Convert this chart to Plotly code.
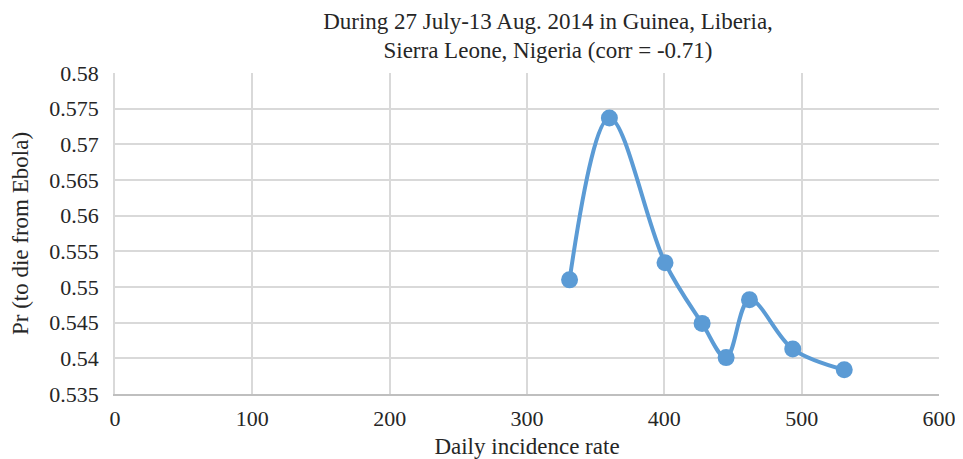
import plotly.graph_objects as go

# Daily incidence rate vs probability to die from Ebola
incidence = [331, 360, 400.5, 427.5, 445, 462, 493.5, 531]
pr_die = [0.5510, 0.5737, 0.5534, 0.5449, 0.5401, 0.5482, 0.5413, 0.5384]

x_ticks = [0, 100, 200, 300, 400, 500, 600]
y_ticks = [0.535, 0.54, 0.545, 0.55, 0.555, 0.56, 0.565, 0.57, 0.575, 0.58]
y_labels = ['0.535', '0.54', '0.545', '0.55', '0.555', '0.56', '0.565', '0.57', '0.575', '0.58']

font_family = 'Liberation Serif, Times New Roman, serif'

# page body keeps an 8px margin, figure reaches the window edges
W, H = 955, 451

fig = go.Figure(
    data=[
        go.Scatter(
            x=incidence,
            y=pr_die,
            mode='lines+markers',
            line=dict(color='#5b9bd5', width=4, shape='spline', smoothing=1),
            marker=dict(color='#5b9bd5', size=17),
            showlegend=False
        )
    ],
    layout=go.Layout(
        width=W,
        height=H,
        paper_bgcolor='white',
        plot_bgcolor='white',
        margin=dict(l=107, r=24, t=65, b=65),
        font=dict(family=font_family, size=22, color='#262626'),
        title=dict(
            text='During 27 July-13 Aug. 2014 in Guinea, Liberia,<br>Sierra Leone, Nigeria (corr = -0.71)',
            x=540 / W, xanchor='center',
            y=1 - 20.5 / H, yanchor='middle',
            font=dict(family=font_family, size=23, color='#262626')
        ),
        xaxis=dict(
            range=[0, 600],
            tickvals=x_ticks,
            ticktext=[str(v) for v in x_ticks],
            showgrid=True,
            gridcolor='#d9d9d9',
            gridwidth=1.5,
            showline=True,
            linecolor='#bfbfbf',
            linewidth=1.5,
            zeroline=False,
            ticks='',
            ticklabelstandoff=4,
            ticklabeloverflow='allow',
            automargin=False,
            title=dict(text='Daily incidence rate', standoff=12,
                       font=dict(family=font_family, size=23)),
        ),
        yaxis=dict(
            range=[0.535, 0.58],
            tickvals=y_ticks,
            ticktext=y_labels,
            showgrid=True,
            gridcolor='#d9d9d9',
            gridwidth=1.5,
            showline=True,
            linecolor='#d9d9d9',
            linewidth=1.5,
            zeroline=False,
            ticks='',
            ticklabelstandoff=10,
            automargin=False,
            title=dict(text='Pr (to die from Ebola)', standoff=15,
                       font=dict(family=font_family, size=23)),
        ),
    )
)

fig.write_html('out.html')
